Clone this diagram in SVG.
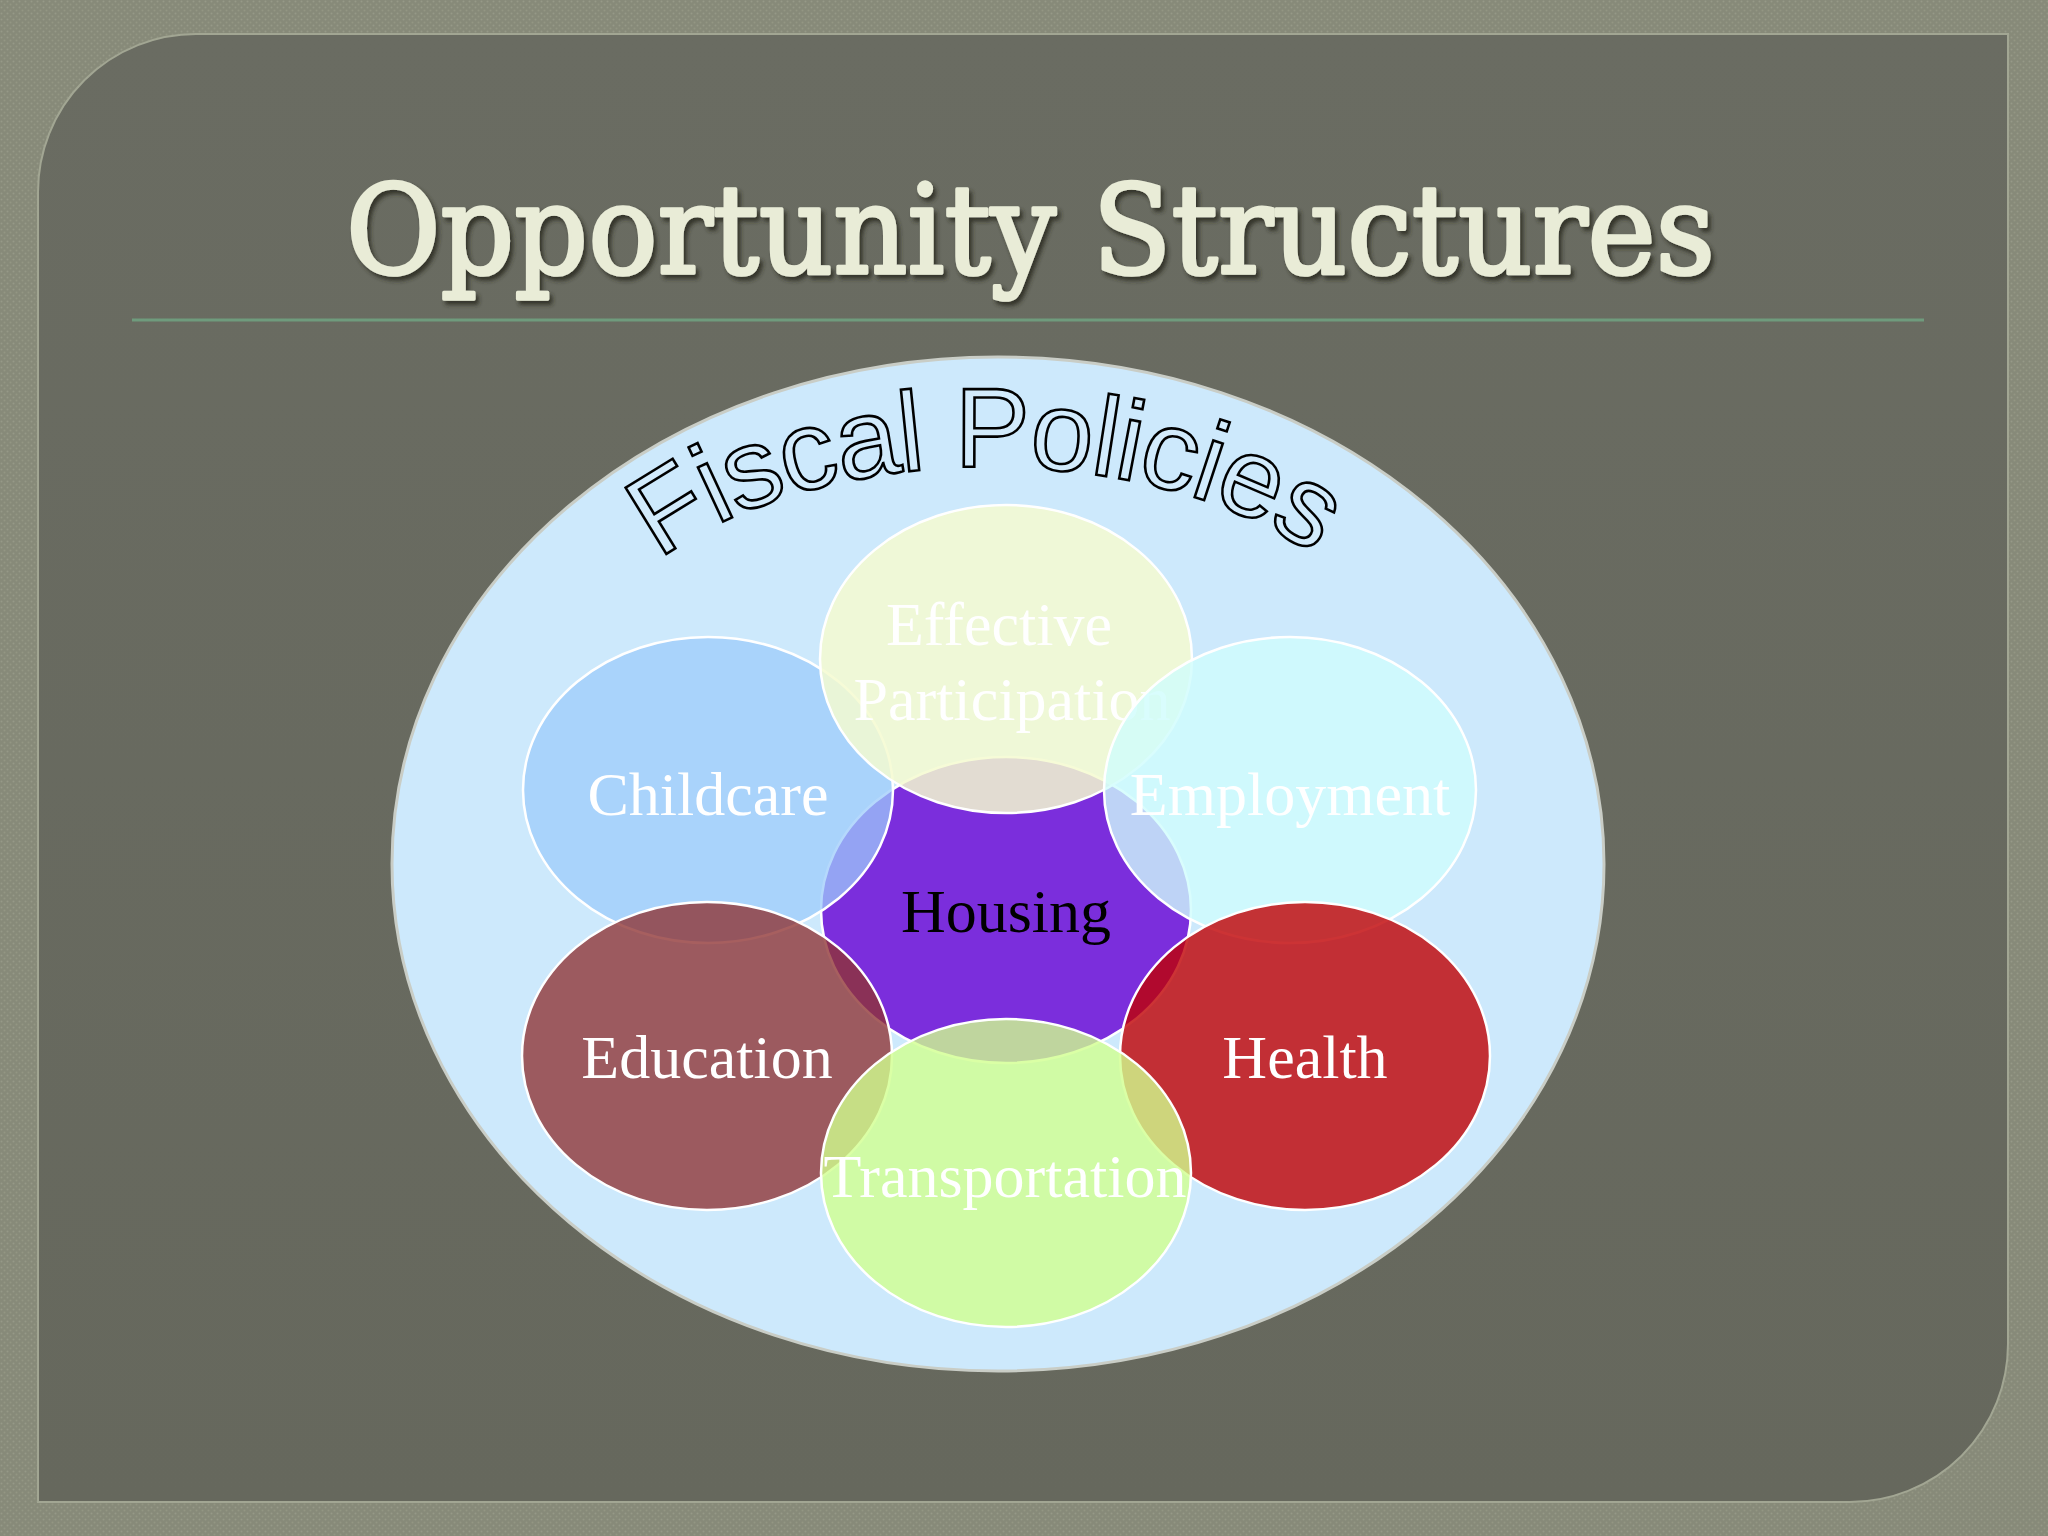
<svg xmlns="http://www.w3.org/2000/svg" width="2048" height="1536" viewBox="0 0 2048 1536">
  <defs>
    <pattern id="tex" width="6" height="6" patternUnits="userSpaceOnUse">
      <rect width="6" height="6" fill="#878a79"/>
      <circle cx="1.5" cy="1.5" r="1" fill="#969987"/>
      <circle cx="4.5" cy="4.5" r="1" fill="#939683"/>
    </pattern>
    <linearGradient id="panelGrad" x1="0" y1="0" x2="0" y2="1">
      <stop offset="0" stop-color="#6a6c62"/>
      <stop offset="1" stop-color="#66685d"/>
    </linearGradient>
    <filter id="titleShadow" x="-5%" y="-20%" width="110%" height="150%">
      <feDropShadow dx="3" dy="4" stdDeviation="2" flood-color="#2a2b24" flood-opacity="0.85"/>
    </filter>
    <path id="fiscalArc" d="M 614.1 607.8 A 400 214 0 0 1 1365.9 607.8"/>
    <style>
      .node { stroke: #ffffff; stroke-width: 2.5; }
      .lbl { font-family: "Liberation Serif", "Times New Roman", serif; font-size: 62px; text-anchor: middle; fill: #ffffff; }
      .title { font-family: "DejaVu Serif", "Liberation Serif", serif; font-size: 124px; fill: #e9ecd7; stroke: #e9ecd7; stroke-width: 3.5; stroke-linejoin: round; }
      .fiscal { font-family: "Liberation Sans", Arial, sans-serif; font-size: 113px; fill: #d2ebfc; stroke: #000000; stroke-width: 2.6; }
    </style>
  </defs>

  <rect id="background" x="0" y="0" width="2048" height="1536" fill="url(#tex)"/>
  <path id="panel" d="M 196 34 H 2008 V 1344 A 158 158 0 0 1 1850 1502 H 38 V 192 A 158 158 0 0 1 196 34 Z" fill="url(#panelGrad)" stroke="#a2a693" stroke-width="2"/>

  <g id="title">
    <text class="title" x="346" y="273" textLength="1369" lengthAdjust="spacingAndGlyphs" filter="url(#titleShadow)">Opportunity Structures</text>
  </g>
  <line id="title-rule" x1="132" y1="320" x2="1924" y2="320" stroke="#6f9b7d" stroke-width="3"/>

  <g id="fiscal-policies">
    <ellipse cx="998" cy="864" rx="606" ry="507" fill="#cde9fc" stroke="#c9cdc6" stroke-width="3"/>
    <text class="fiscal"><textPath href="#fiscalArc" startOffset="66" textLength="690" lengthAdjust="spacing">Fiscal Policies</textPath></text>
  </g>

  <g id="connectors"></g>

  <g id="housing">
    <ellipse class="node" cx="1006" cy="910" rx="185" ry="153" fill="#7b2edc"/>
    <text class="lbl" x="1006" y="932" style="fill:#000000">Housing</text>
  </g>
  <g id="childcare">
    <ellipse class="node" cx="708" cy="790" rx="185" ry="153" fill="#9ccbfb" fill-opacity="0.75"/>
    <text class="lbl" x="708" y="815">Childcare</text>
  </g>
  <g id="effective-participation">
    <ellipse class="node" cx="1006" cy="659" rx="186" ry="154" fill="#f4fad0" fill-opacity="0.85"/>
    <text class="lbl" x="999" y="645">Effective</text>
    <text class="lbl" x="1012" y="720">Participation</text>
  </g>
  <g id="employment">
    <ellipse class="node" cx="1290" cy="790" rx="186" ry="153" fill="#cffdfd" fill-opacity="0.8"/>
    <text class="lbl" x="1290" y="815">Employment</text>
  </g>
  <g id="education">
    <ellipse class="node" cx="707" cy="1056" rx="185" ry="154" fill="#8e3232" fill-opacity="0.78"/>
    <text class="lbl" x="707" y="1078">Education</text>
  </g>
  <g id="health">
    <ellipse class="node" cx="1305" cy="1056" rx="185" ry="154" fill="#bf0003" fill-opacity="0.8"/>
    <text class="lbl" x="1305" y="1078">Health</text>
  </g>
  <g id="transportation">
    <ellipse class="node" cx="1006" cy="1173" rx="185" ry="154" fill="#d1ff8e" fill-opacity="0.8"/>
    <text class="lbl" x="1005" y="1197">Transportation</text>
  </g>
</svg>
